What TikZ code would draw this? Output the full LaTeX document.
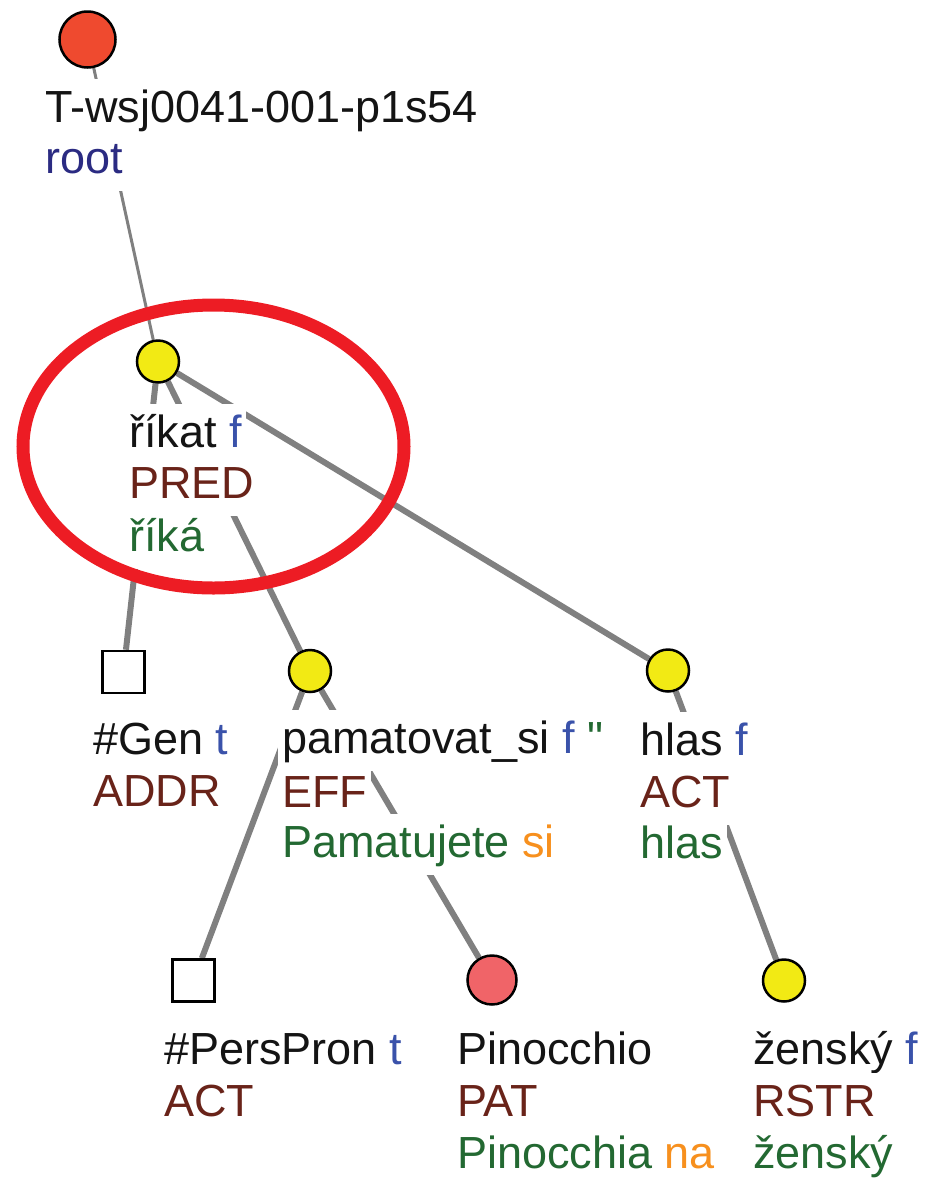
\documentclass[tikz,border=0pt]{standalone}
\usepackage{fontspec}
\setmainfont{Liberation Sans}
\usetikzlibrary{backgrounds}
\definecolor{lemma}{RGB}{20,20,20}
\definecolor{tblue}{RGB}{58,82,170}
\definecolor{rootblue}{RGB}{43,43,130}
\definecolor{functor}{RGB}{105,35,25}
\definecolor{wgreen}{RGB}{35,105,50}
\definecolor{worange}{RGB}{247,144,30}
\definecolor{edgegrey}{RGB}{128,128,128}
\definecolor{nodeyellow}{RGB}{242,234,20}
\definecolor{rootred}{RGB}{239,74,47}
\definecolor{pinored}{RGB}{240,100,104}
\definecolor{hired}{RGB}{237,28,36}
\begin{document}
\begin{tikzpicture}[x=1pt,y=-1pt,
  txt/.style={anchor=base west, fill=white, inner xsep=4pt, inner ysep=7pt,
    text height=36pt, text depth=11pt, font=\fontsize{45}{54}\selectfont, text=lemma},
  ynode/.style={circle, draw=black, line width=2.5pt, fill=nodeyellow, minimum size=42pt, inner sep=0pt},
  pnode/.style={circle, draw=black, line width=2.5pt, fill=pinored, minimum size=49pt, inner sep=0pt},
  rnode/.style={circle, draw=black, line width=2.5pt, fill=rootred, minimum size=56pt, inner sep=0pt},
  snode/.style={rectangle, draw=black, line width=2.5pt, fill=white, minimum size=42pt, inner sep=0pt},
  edgeline/.style={draw=edgegrey, line width=6pt},
  rootedge/.style={draw=edgegrey, line width=3pt},
  highlight/.style={draw=hired, line width=13pt}
]
\useasboundingbox (0,0) rectangle (928,1179);

% root
\node[rnode] (root) at (87.5,39.5) {};
\node[txt] (rootL1) at (41,122) {T-wsj0041-001-p1s54};
\node[txt, text=rootblue] (rootL2) at (41,173) {root};

% rikat
\node[ynode] (rikat) at (158,361.5) {};
\node[txt] (rikatL1) at (125,447) {říkat \textcolor{tblue}{f}\hspace{16pt}};
\node[txt, text=functor] (rikatL2) at (125,498) {PRED};
\node[txt, text=wgreen] (rikatL3) at (125,551) {říká};

% #Gen
\node[snode] (gen) at (123.5,672) {};
\node[txt] (genL1) at (89,754) {\#Gen \textcolor{tblue}{t}};
\node[txt, text=functor] (genL2) at (89,806) {ADDR};

% pamatovat_si
\node[ynode] (pam) at (310,671) {};
\node[txt] (pamL1) at (278,753) {pamatovat\_si \textcolor{tblue}{f} \textcolor{wgreen}{\textquotedbl}};
\node[txt, text=functor] (pamL2) at (278,807) {EFF};
\node[txt, text=wgreen] (pamL3) at (278,857) {Pamatujete \textcolor{worange}{si}};

% hlas
\node[ynode] (hlas) at (668,670.5) {};
\node[txt] (hlasL1) at (636,755) {hlas \textcolor{tblue}{f}};
\node[txt, text=functor] (hlasL2) at (636,807) {ACT};
\node[txt, text=wgreen] (hlasL3) at (636,858) {hlas};

% #PersPron
\node[snode] (pers) at (193.5,980.5) {};
\node[txt] (persL1) at (160,1064) {\#PersPron \textcolor{tblue}{t}};
\node[txt, text=functor] (persL2) at (160,1116) {ACT};

% Pinocchio
\node[pnode] (pino) at (492,980) {};
\node[txt] (pinoL1) at (453,1064) {Pinocchio};
\node[txt, text=functor] (pinoL2) at (453,1116) {PAT};
\node[txt, text=wgreen] (pinoL3) at (453,1168) {Pinocchia \textcolor{worange}{na}};

% zensky
\node[ynode] (zen) at (784,980.5) {};
\node[txt] (zenL1) at (749,1064) {ženský \textcolor{tblue}{f}};
\node[txt, text=functor] (zenL2) at (749,1116) {RSTR};
\node[txt, text=wgreen] (zenL3) at (749,1168) {ženský};

\begin{pgfonlayer}{background}
  \draw[rootedge] (root) -- (rikat);
  \draw[edgeline] (rikat) -- (gen);
  \draw[edgeline] (rikat) -- (pam);
  \draw[edgeline] (rikat) -- (hlas);
  \draw[edgeline] (pam) -- (pers);
  \draw[edgeline] (pam) -- (pino);
  \draw[edgeline] (hlas) -- (zen);
\end{pgfonlayer}

% highlight ellipse
\draw[highlight] (213.5,446.5) ellipse [x radius=190.5pt, y radius=141.5pt];
\end{tikzpicture}
\end{document}
